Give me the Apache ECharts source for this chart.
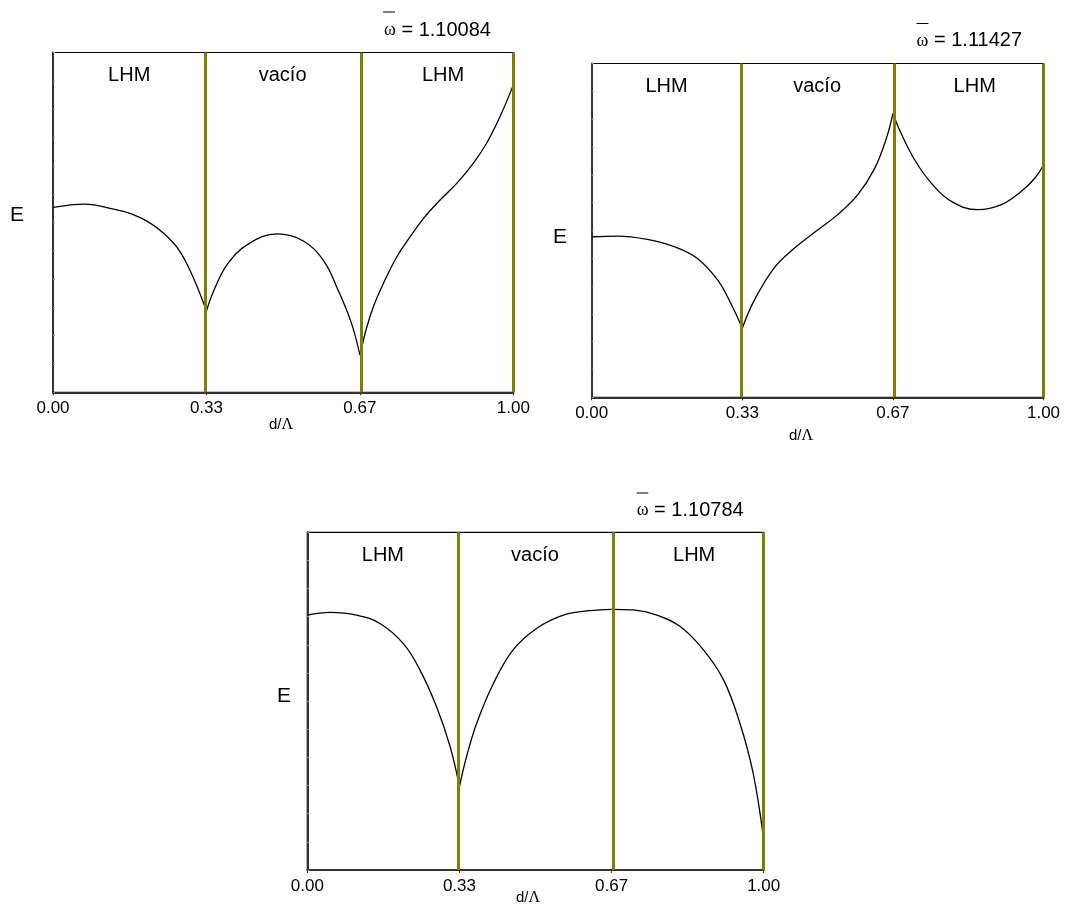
<!DOCTYPE html>
<html>
<head>
<meta charset="utf-8">
<script src="https://cdn.jsdelivr.net/npm/echarts@6/dist/echarts.min.js"></script>
<style>
  html, body { margin: 0; padding: 0; background: #ffffff; }
  #chart { width: 1065px; height: 909px; }
</style>
</head>
<body>
<div id="chart"></div>
<script>
// Layer boundaries along d/Λ and their tick labels
const tickValues = [0, 1 / 3, 2 / 3, 1];
const tickLabels = ['0.00', '0.33', '0.67', '1.00'];
const regionNames = ['LHM', 'vacío', 'LHM'];
const omegaValues = ['1.10084', '1.11427', '1.10784'];

// Field profile E(d/Λ), one sub-array per layer (LHM | vacío | LHM)
const fieldA_d = [
  [0, 0.069, 0.132, 0.170, 0.205, 0.237, 0.274, 0.304, 1 / 3],
  [1 / 3, 0.349, 0.379, 0.424, 0.487, 0.543, 0.588, 0.618, 0.648, 2 / 3],
  [2 / 3, 0.682, 0.696, 0.718, 0.747, 0.776, 0.805, 0.841, 0.877, 0.913, 0.942, 0.971, 1]
];
const fieldA_E = [
  [0.544, 0.554, 0.539, 0.525, 0.503, 0.472, 0.418, 0.340, 0.239],
  [0.239, 0.298, 0.377, 0.436, 0.466, 0.446, 0.387, 0.305, 0.205, 0.110],
  [0.110, 0.193, 0.252, 0.321, 0.399, 0.458, 0.512, 0.566, 0.615, 0.674, 0.733, 0.811, 0.904]
];

const fieldB_d = [
  [0, 0.057, 0.123, 0.183, 0.234, 0.279, 0.308, 1 / 3],
  [1 / 3, 0.360, 0.404, 0.449, 0.500, 0.545, 0.589, 0.626, 0.652, 2 / 3],
  [2 / 3, 0.685, 0.715, 0.752, 0.796, 0.855, 0.907, 0.951, 0.981, 1]
];
const fieldB_E = [
  [0.481, 0.483, 0.473, 0.451, 0.416, 0.351, 0.281, 0.207],
  [0.207, 0.291, 0.388, 0.447, 0.501, 0.548, 0.607, 0.685, 0.775, 0.850],
  [0.850, 0.790, 0.711, 0.641, 0.587, 0.562, 0.577, 0.617, 0.657, 0.696]
];

const fieldC_d = [
  [0, 0.050, 0.108, 0.159, 0.210, 0.247, 0.283, 0.313, 1 / 3],
  [1 / 3, 0.349, 0.371, 0.408, 0.451, 0.503, 0.561, 0.619, 2 / 3],
  [2 / 3, 0.714, 0.766, 0.817, 0.868, 0.912, 0.948, 0.977, 1]
];
const fieldC_E = [
  [0.755, 0.763, 0.755, 0.730, 0.671, 0.592, 0.484, 0.365, 0.247],
  [0.247, 0.336, 0.434, 0.553, 0.652, 0.716, 0.755, 0.768, 0.772],
  [0.772, 0.770, 0.755, 0.721, 0.652, 0.563, 0.434, 0.286, 0.089]
];

const SANS = '"Liberation Sans", Arial, Helvetica, sans-serif';
const SERIF = '"Liberation Serif", "Times New Roman", serif';

// Panel placement (pixels) and the spots for the free-standing texts
const panels = [
  { grid: { left: 53, top: 52.5, width: 460.3, height: 339.8 },
    d: fieldA_d, E: fieldA_E,
    eLabel: [17, 215], xName: [281, 425], omega: [384, 30], bar: [383, 395, 12] },
  { grid: { left: 591.7, top: 63.5, width: 451.8, height: 333.8 },
    d: fieldB_d, E: fieldB_E,
    eLabel: [560, 237.6], xName: [801, 436], omega: [916.6, 40.8], bar: [916.6, 928.4, 23.5] },
  { grid: { left: 307.3, top: 532.3, width: 456.4, height: 337.7 },
    d: fieldC_d, E: fieldC_E,
    eLabel: [284, 696.7], xName: [528, 898], omega: [636.7, 510.7], bar: [636.7, 648.3, 493] }
];

const labelLevel = 0.93;
const yTicks = Array.from({ length: 13 }, (_, k) => k / 12);

const grids = [], xAxes = [], yAxes = [], series = [], graphics = [];

panels.forEach((p, i) => {
  grids.push(Object.assign({
    show: true, borderColor: '#000', borderWidth: 1.2, backgroundColor: '#fff'
  }, p.grid));

  xAxes.push({
    gridIndex: i, type: 'value', min: 0, max: 1,
    axisLine: { show: true, onZero: false, lineStyle: { color: '#333', width: 2 } },
    axisTick: { show: true, customValues: tickValues, length: 3, lineStyle: { color: '#333', width: 1 } },
    axisLabel: {
      customValues: tickValues,
      formatter: v => tickLabels[Math.round(v * 3)],
      fontSize: 17, color: '#000', fontFamily: SANS, margin: 8
    },
    splitLine: { show: false }
  });

  yAxes.push({
    gridIndex: i, type: 'value', min: 0, max: 1,
    axisLine: { show: true, onZero: false, lineStyle: { color: '#333', width: 2 } },
    axisTick: { show: true, inside: true, customValues: yTicks, length: 2, lineStyle: { color: '#999', width: 1 } },
    axisLabel: { show: false },
    splitLine: { show: false }
  });

  // layer interfaces
  series.push({
    type: 'line', xAxisIndex: i, yAxisIndex: i, data: [], silent: true, z: 2,
    markLine: {
      symbol: ['none', 'none'], silent: true, animation: false,
      label: { show: false },
      lineStyle: { color: '#808000', width: 3, type: 'solid' },
      emphasis: { disabled: true },
      data: tickValues.slice(1).map(v => ({ xAxis: v }))
    }
  });

  // field curve, drawn layer by layer so the kinks at interfaces stay sharp
  p.d.forEach((seg, s) => {
    series.push({
      type: 'line', xAxisIndex: i, yAxisIndex: i, z: 3, silent: true,
      smooth: 0.4, symbol: 'none',
      lineStyle: { color: '#000', width: 1.3 },
      data: seg.map((x, k) => [x, p.E[s][k]])
    });
  });

  // layer names
  series.push({
    type: 'scatter', xAxisIndex: i, yAxisIndex: i, symbolSize: 1, silent: true, z: 4,
    itemStyle: { opacity: 0 },
    label: {
      show: true, position: [0, 0], align: 'center', verticalAlign: 'middle',
      formatter: '{b}', fontSize: 20, color: '#000', opacity: 1, fontFamily: SANS
    },
    data: regionNames.map((n, k) => ({
      name: n,
      value: [(tickValues[k] + tickValues[k + 1]) / 2, labelLevel],
      label: k === 2 ? { offset: [7, 0] } : undefined
    }))
  });

  graphics.push({
    type: 'text', x: p.eLabel[0], y: p.eLabel[1],
    style: { text: 'E', fontSize: 21, fontFamily: SANS, fill: '#000', align: 'center', verticalAlign: 'middle' }
  });
  graphics.push({
    type: 'text', x: p.xName[0], y: p.xName[1],
    style: {
      text: '{a|d/}{b|Λ}', align: 'center', verticalAlign: 'middle',
      rich: {
        a: { fontSize: 15, fontFamily: SANS, fill: '#000' },
        b: { fontSize: 16, fontFamily: SERIF, fill: '#000' }
      }
    }
  });
  graphics.push({
    type: 'text', x: p.omega[0], y: p.omega[1],
    style: {
      text: '{w|ω}{n| = ' + omegaValues[i] + '}', align: 'left', verticalAlign: 'middle',
      rich: {
        w: { fontSize: 18, fontFamily: SERIF, fill: '#000' },
        n: { fontSize: 20, fontFamily: SANS, fill: '#000' }
      }
    }
  });
  graphics.push({
    type: 'line',
    shape: { x1: p.bar[0], y1: p.bar[2], x2: p.bar[1], y2: p.bar[2] },
    style: { stroke: '#000', lineWidth: 1 }
  });
});

const chart = echarts.init(document.getElementById('chart'), null, { renderer: 'canvas' });
chart.setOption({
  backgroundColor: '#ffffff',
  animation: false,
  grid: grids,
  xAxis: xAxes,
  yAxis: yAxes,
  series: series,
  graphic: graphics
});
</script>
</body>
</html>
